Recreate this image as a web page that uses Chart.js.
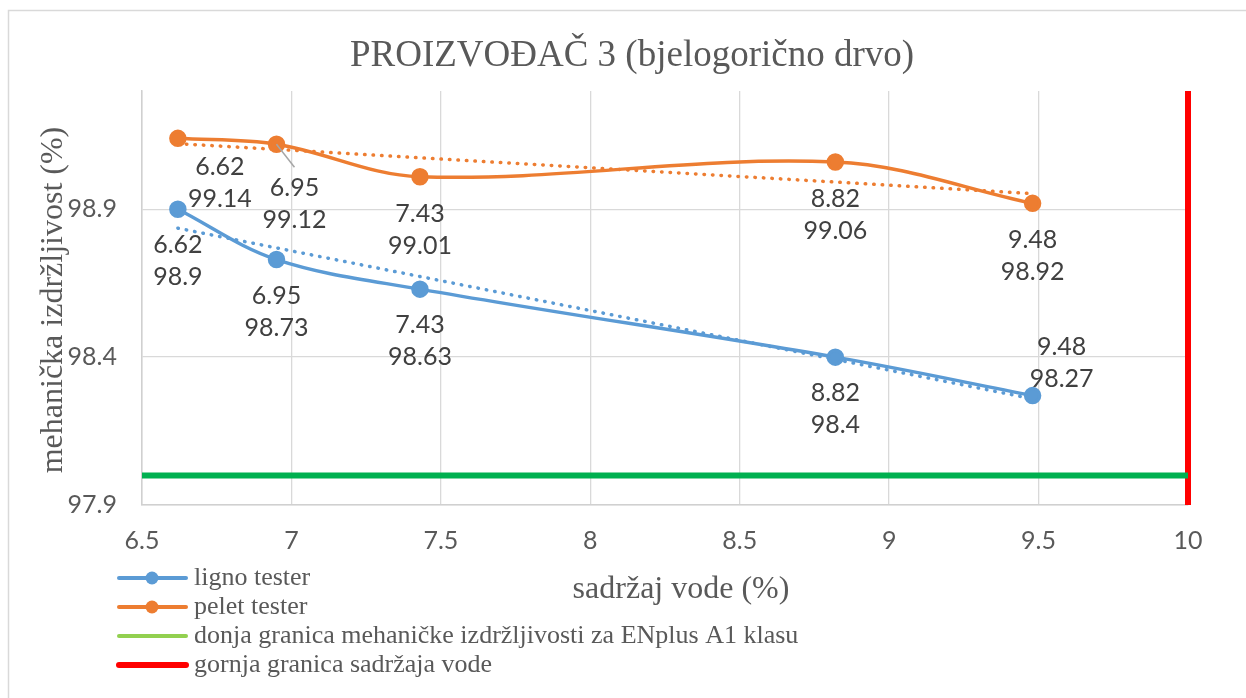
<!DOCTYPE html>
<html>
<head>
<meta charset="utf-8">
<script src="https://cdn.jsdelivr.net/npm/chart.js@4.4.1/dist/chart.umd.min.js"></script>
<style>
  html, body { margin: 0; padding: 0; background: #fff; }
  #wrap { width: 1246px; height: 698px; position: relative; }
</style>
</head>
<body>
<div id="wrap"><canvas id="myChart"></canvas></div>
<script>
// data
const titleText = 'PROIZVOĐAČ 3 (bjelogorično drvo)';
const xTitle = 'sadržaj vode (%)';
const yTitle = 'mehanička izdržljivost (%)';
const seriesNames = ['ligno tester', 'pelet tester',
  'donja granica mehaničke izdržljivosti za ENplus A1 klasu',
  'gornja granica sadržaja vode'];

const waterContent = [6.62, 6.95, 7.43, 8.82, 9.48];
const lignoValues = [98.9, 98.73, 98.63, 98.4, 98.27];
const peletValues = [99.14, 99.12, 99.01, 99.06, 98.92];

// dotted trend lines (end points)
const trendX = [6.62, 9.48];
const lignoTrend = [98.836, 98.259];
const peletTrend = [99.122, 98.953];

const mechLimit = 98.0;
const waterLimit = 10;

const xTicks = [6.5, 7, 7.5, 8, 8.5, 9, 9.5, 10];
const yTicks = [97.9, 98.4, 98.9];
const xRange = [6.5, 10];
const yRange = [97.9, 99.3];

const blue = '#5B9BD5';
const orange = '#ED7D31';
const green = '#00B050';
const red = '#FF0000';

const numFont = 'Lato';

// where each data label sits relative to its point (dx, dy of first line)
const labelPlace = {
  0: [[0, 36], [0, 36], [0, 36], [0, 36], [29, -49]],
  1: [[42, 29], [18, 44], [0, 37], [0, 37], [0, 37]]
};

const pts = (xs, ys) => xs.map((x, i) => ({ x: x, y: ys[i] }));

const extras = {
  id: 'extras',
  beforeDraw(chart) {
    const ctx = chart.ctx;
    ctx.save();
    ctx.fillStyle = '#fff';
    ctx.fillRect(0, 0, chart.width, chart.height);
    ctx.strokeStyle = '#d9d9d9';
    ctx.lineWidth = 1.5;
    ctx.strokeRect(8.5, 10.5, chart.width + 20, chart.height + 20);
    ctx.restore();
  },
  afterDatasetsDraw(chart) {
    const ctx = chart.ctx;
    const xs = chart.scales.x, ys = chart.scales.y;
    ctx.save();
    ctx.font = '25px ' + numFont;
    ctx.fillStyle = '#404040';
    ctx.textAlign = 'center';
    ctx.textBaseline = 'middle';
    [lignoValues, peletValues].forEach((vals, s) => {
      vals.forEach((v, i) => {
        const px = xs.getPixelForValue(waterContent[i]);
        const py = ys.getPixelForValue(v);
        const [dx, dy] = labelPlace[s][i];
        if (s === 1 && i === 1) {
          ctx.strokeStyle = '#a6a6a6';
          ctx.lineWidth = 1.5;
          ctx.beginPath();
          ctx.moveTo(px, py);
          ctx.lineTo(px + dx, py + dy - 21);
          ctx.stroke();
        }
        ctx.fillText(String(waterContent[i]), px + dx, py + dy);
        ctx.fillText(String(v), px + dx, py + dy + 32);
      });
    });
    ctx.restore();
  },
  afterDraw(chart) {
    const ctx = chart.ctx;
    ctx.save();
    ctx.fillStyle = '#595959';
    ctx.textAlign = 'center';
    ctx.textBaseline = 'alphabetic';
    ctx.font = '37px "Liberation Serif"';
    ctx.fillText(titleText, 632, 66);

    ctx.font = '32px "Liberation Serif"';
    ctx.fillText(xTitle, 681, 598);

    ctx.save();
    ctx.translate(62, 300);
    ctx.rotate(-Math.PI / 2);
    ctx.fillText(yTitle, 0, 0);
    ctx.restore();

    // legend
    const rows = [
      { c: blue, w: 4, dot: true },
      { c: orange, w: 4, dot: true },
      { c: '#92D050', w: 4, dot: false },
      { c: red, w: 6, dot: false }
    ];
    ctx.font = '26px "Liberation Serif"';
    ctx.textAlign = 'left';
    ctx.textBaseline = 'middle';
    rows.forEach((r, i) => {
      const y = 578 + i * 29;
      ctx.strokeStyle = r.c;
      ctx.lineWidth = r.w;
      ctx.lineCap = 'round';
      ctx.beginPath();
      ctx.moveTo(119, y);
      ctx.lineTo(186, y);
      ctx.stroke();
      if (r.dot) {
        ctx.fillStyle = r.c;
        ctx.beginPath();
        ctx.arc(152, y, 6.5, 0, Math.PI * 2);
        ctx.fill();
      }
      ctx.fillStyle = '#595959';
      ctx.fillText(seriesNames[i], 194, y);
    });
    ctx.restore();
  }
};

const ctx = document.getElementById('myChart').getContext('2d');
new Chart(ctx, {
  type: 'scatter',
  data: {
    datasets: [
      {
        label: seriesNames[0],
        data: pts(waterContent, lignoValues),
        showLine: true,
        tension: 0.35,
        borderColor: blue,
        backgroundColor: blue,
        borderWidth: 3.5,
        pointRadius: 7,
        pointHoverRadius: 7
      },
      {
        label: seriesNames[1],
        data: pts(waterContent, peletValues),
        showLine: true,
        tension: 0.35,
        borderColor: orange,
        backgroundColor: orange,
        borderWidth: 3.5,
        pointRadius: 7,
        pointHoverRadius: 7
      },
      {
        label: 'trend ligno',
        data: pts(trendX, lignoTrend),
        showLine: true,
        borderColor: blue,
        borderWidth: 3.5,
        borderDash: [0.5, 8],
        borderCapStyle: 'round',
        pointRadius: 0
      },
      {
        label: 'trend pelet',
        data: pts(trendX, peletTrend),
        showLine: true,
        borderColor: orange,
        borderWidth: 3.5,
        borderDash: [0.5, 8],
        borderCapStyle: 'round',
        pointRadius: 0
      },
      {
        label: seriesNames[2],
        data: pts(xRange, [mechLimit, mechLimit]),
        showLine: true,
        borderColor: green,
        borderWidth: 6,
        pointRadius: 0,
        clip: false
      },
      {
        label: seriesNames[3],
        data: pts([waterLimit, waterLimit], yRange),
        showLine: true,
        borderColor: red,
        borderWidth: 6,
        pointRadius: 0,
        clip: false
      }
    ]
  },
  options: {
    responsive: true,
    maintainAspectRatio: false,
    animation: false,
    layout: { padding: { top: 91, right: 58, left: 0, bottom: 0 } },
    plugins: {
      legend: { display: false },
      title: { display: false },
      tooltip: { enabled: false }
    },
    scales: {
      x: {
        type: 'linear',
        min: xRange[0],
        max: xRange[1],
        afterBuildTicks: (s) => { s.ticks = xTicks.map(v => ({ value: v })); },
        afterFit: (s) => { s.height = 193; },
        grid: { color: '#d9d9d9', lineWidth: 1.3, drawTicks: false },
        border: { color: '#d0d0d0', width: 1.5 },
        ticks: {
          padding: 21,
          color: '#595959',
          font: { family: numFont, size: 25 },
          callback: (v) => String(v),
          maxRotation: 0
        }
      },
      y: {
        type: 'linear',
        min: yRange[0],
        max: yRange[1],
        afterBuildTicks: (s) => { s.ticks = yTicks.map(v => ({ value: v })); },
        afterFit: (s) => { s.width = 142; },
        grid: { color: '#d9d9d9', lineWidth: 1.3, drawTicks: false },
        border: { color: '#d0d0d0', width: 1.5 },
        ticks: {
          padding: 25,
          color: '#595959',
          font: { family: numFont, size: 25 },
          callback: (v) => String(v)
        }
      }
    }
  },
  plugins: [extras]
});
</script>
</body>
</html>
